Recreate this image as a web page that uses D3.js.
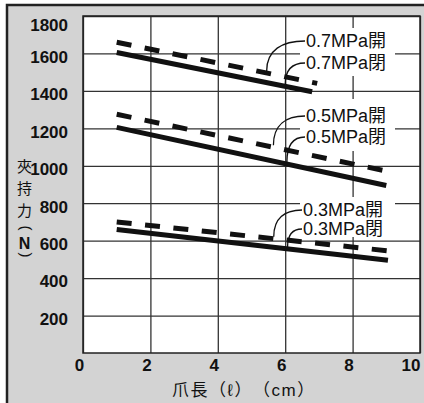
<!DOCTYPE html>
<html>
<head>
<meta charset="utf-8">
<script src="https://cdn.jsdelivr.net/npm/d3@7"></script>
<style>
  body { margin: 0; background: #fff; }
  svg { display: block; }
  .tick text { font-family: "Liberation Sans Narrow", "Liberation Sans", Arial, sans-serif; font-weight: bold; font-size: 17px; fill: #111; }
  .xtitle { text-spacing-trim: space-all; }
</style>
</head>
<body>
<svg id="chart" width="424" height="403"></svg>
<script>
// claw length (cm) where each line starts / ends
const xTicks = [0, 2, 4, 6, 8, 10];
const yTicks = [200, 400, 600, 800, 1000, 1200, 1400, 1600, 1800];

// open (dashed) and closed (solid) gripping force, N
const openLength07 = [1, 6.95];
const openForce07 = [1660, 1440];
const closeLength07 = [1, 6.8];
const closeForce07 = [1605, 1395];

const openLength05 = [1, 9.05];
const openForce05 = [1275, 970];
const closeLength05 = [1, 9.0];
const closeForce05 = [1205, 895];

const openLength03 = [1, 9.08];
const openForce03 = [700, 545];
const closeLength03 = [1, 9.05];
const closeForce03 = [660, 495];

const labelTexts = ["0.7MPa開", "0.7MPa閉", "0.5MPa開", "0.5MPa閉", "0.3MPa開", "0.3MPa閉"];
// claw length that each label's leader points to
const leaderAt = [5.45, 6.0, 5.65, 6.05, 5.66, 6.07];

const series = [
  { id: "o07", xs: openLength07, ys: openForce07, dashed: true },
  { id: "c07", xs: closeLength07, ys: closeForce07, dashed: false },
  { id: "o05", xs: openLength05, ys: openForce05, dashed: true },
  { id: "c05", xs: closeLength05, ys: closeForce05, dashed: false },
  { id: "o03", xs: openLength03, ys: openForce03, dashed: true },
  { id: "c03", xs: closeLength03, ys: closeForce03, dashed: false }
];

const svg = d3.select("#chart");
const margin = { top: 16, left: 83, right: 420, bottom: 353 };

const x = d3.scaleLinear().domain([0, 10]).range([margin.left, margin.right]);
const y = d3.scaleLinear().domain([0, 1800]).range([margin.bottom, margin.top]);

// grey frame
svg.append("rect")
  .attr("x", 7).attr("y", 5).attr("width", 430).attr("height", 420)
  .attr("fill", "#d3d3d3").attr("stroke", "#222").attr("stroke-width", 2.5);

// plot area
svg.append("rect")
  .attr("x", margin.left).attr("y", margin.top)
  .attr("width", margin.right - margin.left).attr("height", margin.bottom - margin.top)
  .attr("fill", "#fff");

// y axis with grid
const yAxis = svg.append("g")
  .attr("transform", `translate(${margin.left},0)`)
  .call(d3.axisLeft(y).tickValues(yTicks).tickFormat(d3.format("d"))
    .tickSize(-(margin.right - margin.left)).tickPadding(15));
yAxis.select(".domain").remove();
yAxis.selectAll(".tick line").attr("stroke", "#333").attr("stroke-width", 1.3);
yAxis.selectAll(".tick text").attr("dy", d => d === 1800 ? "0.86em" : "0.52em");

// x axis with grid
const xAxis = svg.append("g")
  .attr("transform", `translate(0,${margin.bottom})`)
  .call(d3.axisBottom(x).tickValues(xTicks).tickFormat(d3.format("d"))
    .tickSize(-(margin.bottom - margin.top)).tickPadding(6));
xAxis.select(".domain").remove();
xAxis.selectAll(".tick line").attr("stroke", "#333").attr("stroke-width", 1.3);
xAxis.selectAll(".tick text")
  .attr("dx", d => d === 10 ? 0 : -4)
  .attr("text-anchor", d => d === 10 ? "end" : "middle")
  .attr("x", d => d === 10 ? margin.right - x(10) : 0);

// plot border
svg.append("rect")
  .attr("x", margin.left).attr("y", margin.top)
  .attr("width", margin.right - margin.left).attr("height", margin.bottom - margin.top)
  .attr("fill", "none").attr("stroke", "#222").attr("stroke-width", 1.5);

// white boxes behind the labels
const boxes = [[300, 28, 95, 48], [300, 99, 95, 52], [300, 197, 95, 40]];
svg.selectAll(".lblbox").data(boxes).enter().append("rect")
  .attr("x", d => d[0]).attr("y", d => d[1]).attr("width", d => d[2]).attr("height", d => d[3])
  .attr("fill", "#fff");

// force lines
const line = d3.line().x(d => x(d[0])).y(d => y(d[1]));
svg.selectAll(".force").data(series).enter().append("path")
  .attr("class", "force")
  .attr("d", s => line(s.xs.map((v, i) => [v, s.ys[i]])))
  .attr("fill", "none")
  .attr("stroke", "#111")
  .attr("stroke-width", 5)
  .attr("stroke-dasharray", s => s.dashed ? "15,13.5" : null);

// labels and leaders (open / closed pair share one text element)
const labelX = [306, 306, 306, 306, 303, 303];
const labelBase = [47, 69, 122, 143, 216, 235];
function forceAt(s, v) {
  const t = (v - s.xs[0]) / (s.xs[1] - s.xs[0]);
  return s.ys[0] + t * (s.ys[1] - s.ys[0]);
}
labelTexts.forEach((txt, i) => {
  const s = series[i];
  const sx = labelX[i] - 1, sy = labelBase[i] - 6;
  const tx = x(leaderAt[i]), ty = y(forceAt(s, leaderAt[i])) - 2;
  svg.append("path")
    .attr("d", `M${sx},${sy} C${sx - (sx - tx) * 0.6},${sy} ${tx},${sy + (ty - sy) * 0.3} ${tx},${ty}`)
    .attr("fill", "none").attr("stroke", "#111").attr("stroke-width", 1.3);
});
[0, 2, 4].forEach(i => {
  const t = svg.append("text")
    .attr("font-family", "'Liberation Sans', 'Noto Sans CJK TC', sans-serif")
    .attr("font-size", 18).attr("fill", "#111");
  [i, i + 1].forEach(j => {
    t.append("tspan").attr("x", labelX[j]).attr("y", labelBase[j]).text(labelTexts[j]);
  });
});

// y title, stacked vertically; the brackets are turned on their side
const yTitle = ["夾", "持", "力", "(", "N", ")"];
const yTitleBase = [171.5, 193.5, 215.5, 225.5, 249, 252.5];
const yt = svg.append("text")
  .attr("font-family", "'Noto Sans CJK TC', sans-serif")
  .attr("font-size", 15).attr("fill", "#111").attr("text-anchor", "middle");
yTitle.forEach((ch, i) => {
  const isParen = ch === "(" || ch === ")";
  const ts = yt.append("tspan")
    .attr("x", isParen ? 23 : 24.5).attr("y", yTitleBase[i])
    .text(ch);
  if (isParen) ts.attr("rotate", 90).attr("font-family", "'Liberation Sans', sans-serif");
  if (ch === "N") ts.attr("font-family", "'Liberation Sans', sans-serif").attr("font-weight", "bold").attr("font-size", 16);
});

// x title
svg.append("text")
  .attr("class", "xtitle")
  .attr("x", 172).attr("y", 396)
  .attr("font-family", "'Liberation Sans', 'Noto Sans CJK TC', sans-serif")
  .attr("font-size", 17).attr("letter-spacing", 1.5).attr("fill", "#111")
  .text("爪長（ℓ）（cm）");
</script>
</body>
</html>
